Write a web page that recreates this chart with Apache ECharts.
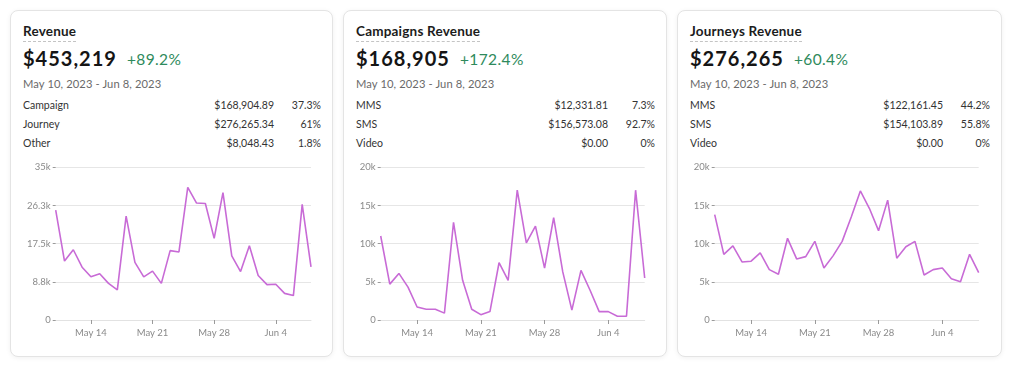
<!DOCTYPE html>
<html>
<head>
<meta charset="utf-8">
<script src="https://cdn.jsdelivr.net/npm/echarts@6/dist/echarts.min.js"></script>
<style>
  html, body { margin:0; padding:0; background:#ffffff; width:1024px; height:371px; overflow:hidden; font-family: Lato, "Noto Sans", sans-serif; }
  .card { position:absolute; top:10px; height:347px; box-sizing:border-box; border:1px solid #e4e4e4; border-radius:8px; background:#fff; box-shadow:0 1px 5px rgba(0,0,0,0.06); }
  .title { position:absolute; left:12px; top:13px; font-size:13.5px; font-weight:700; color:#1c1c1c; line-height:14px; white-space:nowrap; letter-spacing:0.2px; }
  .uline { position:absolute; left:12px; top:29.5px; height:0; border-top:1px dashed #c4c4c4; }
  .big { position:absolute; left:12px; top:37px; font-size:20px; font-weight:700; color:#151515; line-height:21px; white-space:nowrap; letter-spacing:1px; }
  .chg { position:absolute; top:40px; font-size:15.5px; color:#2e8a5c; line-height:16px; white-space:nowrap; letter-spacing:0.4px; }
  .date { position:absolute; left:12px; top:67px; font-size:11.2px; color:#6a6a6a; line-height:12px; white-space:nowrap; letter-spacing:0.1px; }
  .row { position:absolute; left:12px; font-size:10.5px; color:#333; line-height:11px; white-space:nowrap; }
  .amt { position:absolute; font-size:10.5px; color:#333; line-height:11px; white-space:nowrap; text-align:right; }
  .chart { position:absolute; left:0; top:144px; height:195px; }
</style>
</head>
<body>
<div id="root"></div>
<script>
// ---- data ----
const dates = ['May 10','May 11','May 12','May 13','May 14','May 15','May 16','May 17','May 18','May 19',
  'May 20','May 21','May 22','May 23','May 24','May 25','May 26','May 27','May 28','May 29',
  'May 30','May 31','Jun 1','Jun 2','Jun 3','Jun 4','Jun 5','Jun 6','Jun 7','Jun 8'];

const revenueValues = [25200,13500,16100,12100,9900,10600,8400,6900,23800,13200,
  9900,11200,8400,15900,15600,30400,26800,26700,18700,29200,
  14700,11100,17000,10200,8100,8200,6100,5600,26500,12200];
const campaignsValues = [11000,4700,6100,4300,1700,1400,1400,900,12800,5200,
  1400,700,1100,7500,5200,17000,10100,12300,6800,13400,
  6300,1300,6500,3900,1100,1100,500,500,17000,5500];
const journeysValues = [13800,8600,9700,7600,7700,8800,6600,6000,10700,8000,
  8300,10300,6800,8400,10300,13500,16900,14600,11700,15700,
  8100,9600,10300,5900,6600,6800,5400,5000,8600,6200];

const revenueYTicks = ['0','8.8k','17.5k','26.3k','35k'];
const campaignsYTicks = ['0','5k','10k','15k','20k'];
const journeysYTicks = ['0','5k','10k','15k','20k'];

const cardTitles = ['Revenue','Campaigns Revenue','Journeys Revenue'];
const cardTotals = ['$453,219','$168,905','$276,265'];
const cardChanges = ['+89.2%','+172.4%','+60.4%'];
const dateRange = 'May 10, 2023 - Jun 8, 2023';
const revenueRows = [['Campaign','$168,904.89','37.3%'],['Journey','$276,265.34','61%'],['Other','$8,048.43','1.8%']];
const campaignsRows = [['MMS','$12,331.81','7.3%'],['SMS','$156,573.08','92.7%'],['Video','$0.00','0%']];
const journeysRows = [['MMS','$122,161.45','44.2%'],['SMS','$154,103.89','55.8%'],['Video','$0.00','0%']];

// ---- layout ----
const cards = [
  {left:10, width:323, title:cardTitles[0], total:cardTotals[0], chg:cardChanges[0], rows:revenueRows, values:revenueValues, yMax:35000, yInt:8750, yTicks:revenueYTicks, gridLeft:44.7, gridRight:21},
  {left:343, width:324, title:cardTitles[1], total:cardTotals[1], chg:cardChanges[1], rows:campaignsRows, values:campaignsValues, yMax:20000, yInt:5000, yTicks:campaignsYTicks, gridLeft:36.7, gridRight:21.3},
  {left:677, width:325, title:cardTitles[2], total:cardTotals[2], chg:cardChanges[2], rows:journeysRows, values:journeysValues, yMax:20000, yInt:5000, yTicks:journeysYTicks, gridLeft:36.7, gridRight:22.3}
];

const root = document.getElementById('root');
const rowTops = [89, 108, 127];

cards.forEach((c, ci) => {
  const card = document.createElement('div');
  card.className = 'card';
  card.style.left = c.left + 'px';
  card.style.width = c.width + 'px';
  root.appendChild(card);

  const t = document.createElement('div'); t.className = 'title'; t.textContent = c.title; card.appendChild(t);
  const u = document.createElement('div'); u.className = 'uline'; card.appendChild(u);
  const b = document.createElement('div'); b.className = 'big'; b.textContent = c.total; card.appendChild(b);
  const g = document.createElement('div'); g.className = 'chg'; g.textContent = c.chg; card.appendChild(g);
  const d = document.createElement('div'); d.className = 'date'; d.textContent = dateRange; card.appendChild(d);

  c.rows.forEach((r, ri) => {
    const l = document.createElement('div'); l.className = 'row'; l.style.top = rowTops[ri] + 'px'; l.textContent = r[0]; card.appendChild(l);
    const a = document.createElement('div'); a.className = 'amt'; a.style.top = rowTops[ri] + 'px'; a.style.right = '58px'; a.textContent = r[1]; card.appendChild(a);
    const p = document.createElement('div'); p.className = 'amt'; p.style.top = rowTops[ri] + 'px'; p.style.right = '11px'; p.textContent = r[2]; card.appendChild(p);
  });

  const ch = document.createElement('div'); ch.className = 'chart'; ch.style.width = (c.width - 2) + 'px'; card.appendChild(ch);

  u.style.width = t.getBoundingClientRect().width + 'px';
  g.style.left = (12 + b.getBoundingClientRect().width + 10) + 'px';

  const chart = echarts.init(ch, null, {renderer:'canvas'});
  const tickFn = (i) => i % 7 === 4;
  chart.setOption({
    animation:false,
    grid:{left:c.gridLeft, right:c.gridRight, top:12.3, bottom:30},
    xAxis:{
      type:'category', data:dates, boundaryGap:false,
      axisLine:{show:true, lineStyle:{color:'#e2e2e2', width:1}},
      axisTick:{show:true, interval:tickFn, length:4, lineStyle:{color:'#9a9a9a'}},
      axisLabel:{interval:tickFn, color:'#8a8a8a', fontSize:9.5, fontFamily:'Lato', margin:8}
    },
    yAxis:{
      type:'value', min:0, max:c.yMax, interval:c.yInt,
      axisLine:{show:false},
      axisTick:{show:true, length:3, lineStyle:{color:'#9a9a9a'}},
      splitLine:{lineStyle:{color:'#e6e6e6', width:1}},
      axisLabel:{color:'#8a8a8a', fontSize:9.5, fontFamily:'Lato', margin:5,
        formatter:(v) => c.yTicks[Math.round(v / c.yInt)]}
    },
    series:[{type:'line', data:c.values, symbol:'none', smooth:false,
      lineStyle:{color:'#c86bd6', width:1.6}}]
  });
});
</script>
</body>
</html>
